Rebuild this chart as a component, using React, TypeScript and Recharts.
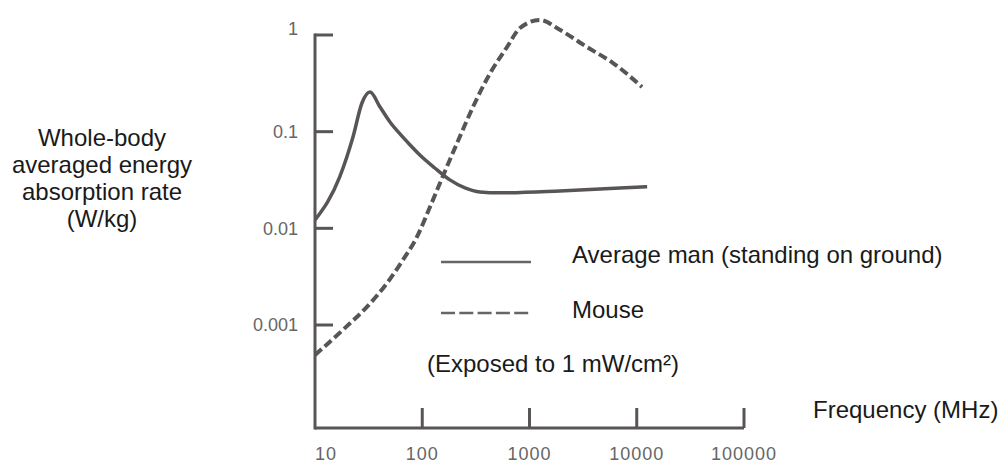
import { Legend, Line, LineChart, ReferenceLine, XAxis, YAxis } from "recharts";

const xTicks = [10, 100, 1000, 10000, 100000];
const xTickLabels = ["10", "100", "1000", "10000", "100000"];
const yTicks = [0.001, 0.01, 0.1, 1];
const yTickLabels = ["0.001", "0.01", "0.1", "1"];

// Average man (standing on ground), W/kg vs MHz
const manFreq = [10, 17, 22.6, 27.4, 32.6, 40.4, 50, 62, 77, 95, 131, 181, 250, 345, 530, 1920, 6980, 12500];
const manRate = [0.0122, 0.034, 0.088, 0.198, 0.257, 0.18, 0.126, 0.0947, 0.0729, 0.0574, 0.0421, 0.0317, 0.0262, 0.0238, 0.0233, 0.0244, 0.0262, 0.027];

// Mouse
const mouseFreq = [10, 18.2, 30.5, 47, 66, 89, 118, 156, 211, 297, 428, 617, 815, 1250, 1920, 3435, 6010, 11200];
const mouseRate = [0.00049, 0.00089, 0.00154, 0.00272, 0.0047, 0.0081, 0.0166, 0.0348, 0.076, 0.18, 0.4, 0.75, 1.18, 1.43, 1.13, 0.75, 0.513, 0.29];

const manData = manFreq.map((f, i) => ({ f, v: manRate[i] }));
const mouseData = mouseFreq.map((f, i) => ({ f, v: mouseRate[i] }));

const yDomain = [0.000086, 1.61];
const AXIS = "#595555";
const FONT = "'Liberation Sans', Arial, sans-serif";

function XTick({ x, y, payload }: any) {
  const i = xTicks.indexOf(payload.value);
  return (
    <g>
      {i > 0 && <line x1={x} x2={x} y1={y} y2={y - 20} stroke={AXIS} strokeWidth={3} />}
      <text
        x={x}
        y={y + 32}
        textAnchor={i === 0 ? "start" : "middle"}
        fontSize={18}
        letterSpacing={1}
        fill="#666"
        fontFamily={FONT}
      >
        {xTickLabels[i]}
      </text>
    </g>
  );
}

function YTick({ x, y, payload }: any) {
  const i = yTicks.indexOf(payload.value);
  // the top label sits a little above its tick in the original
  const lift = i === yTicks.length - 1 ? -6 : 0;
  return (
    <g>
      <line x1={x} x2={x + 18} y1={y} y2={y} stroke={AXIS} strokeWidth={3} />
      <text x={x - 17} y={y + lift} dy="0.35em" textAnchor="end" fontSize={18} fill="#666" fontFamily={FONT}>
        {yTickLabels[i]}
      </text>
    </g>
  );
}

function LegendBox({ payload }: any) {
  const lineY = [32, 83];
  const textY = [33, 88];
  return (
    <svg width={560} height={160} style={{ display: "block", overflow: "visible" }}>
      {(payload || []).map((entry: any, i: number) => (
        <g key={entry.value}>
          <line
            x1={14}
            x2={104}
            y1={lineY[i]}
            y2={lineY[i]}
            stroke="#666"
            strokeWidth={2.7}
            strokeDasharray={entry.payload?.strokeDasharray ? "14 4.3" : undefined}
          />
          <text x={145} y={textY[i]} fontSize={24} fill="#1a1a1a" fontFamily={FONT}>
            {entry.value}
          </text>
        </g>
      ))}
      <text x={0} y={142} fontSize={24} fill="#1a1a1a" fontFamily={FONT}>
        (Exposed to 1 mW/cm²)
      </text>
    </svg>
  );
}

function YLabel() {
  const lines = ["Whole-body", "averaged energy", "absorption rate", "(W/kg)"];
  return (
    <text textAnchor="middle" fontSize={24} fill="#1a1a1a" fontFamily={FONT}>
      {lines.map((t, i) => (
        <tspan key={t} x={102} y={146 + i * 27}>
          {t}
        </tspan>
      ))}
    </text>
  );
}

function XLabel() {
  return (
    <text x={813} y={418} fontSize={24} fill="#1a1a1a" fontFamily={FONT}>
      Frequency (MHz)
    </text>
  );
}

export default function App() {
  return (
    <div style={{ position: "absolute", left: 0, top: 0, width: 999, height: 463, background: "#fff" }}>
      <LineChart width={999} height={463} margin={{ top: 15, right: 255, bottom: 0, left: 255 }}>
        <XAxis
          dataKey="f"
          type="number"
          scale="log"
          domain={[10, 100000]}
          ticks={xTicks}
          allowDataOverflow
          height={35}
          axisLine={{ stroke: AXIS, strokeWidth: 3 }}
          tickLine={false}
          tickSize={0}
          tickMargin={0}
          tick={<XTick />}
          interval={0}
          label={{ content: <XLabel /> }}
        />
        <YAxis
          type="number"
          scale="log"
          domain={yDomain}
          ticks={yTicks}
          allowDataOverflow
          width={60}
          axisLine={false}
          tickLine={false}
          tickSize={0}
          tickMargin={0}
          tick={<YTick />}
          interval={0}
          label={{ content: <YLabel /> }}
        />
        <ReferenceLine
          segment={[
            { x: 10, y: yDomain[0] },
            { x: 10, y: 1 },
          ]}
          stroke={AXIS}
          strokeWidth={3}
          strokeLinecap="square"
          ifOverflow="visible"
        />
        <Line
          data={manData}
          dataKey="v"
          name="Average man (standing on ground)"
          type="monotone"
          stroke={AXIS}
          strokeWidth={3.5}
          dot={false}
          activeDot={false}
          isAnimationActive={false}
        />
        <Line
          data={mouseData}
          dataKey="v"
          name="Mouse"
          type="monotone"
          stroke={AXIS}
          strokeWidth={4}
          strokeDasharray="9 4"
          dot={false}
          activeDot={false}
          isAnimationActive={false}
        />
        <Legend
          layout="horizontal"
          verticalAlign="middle"
          align="center"
          content={<LegendBox />}
          wrapperStyle={{ position: "absolute", left: 427, top: 230, width: 560, height: 160 }}
        />
      </LineChart>
    </div>
  );
}
